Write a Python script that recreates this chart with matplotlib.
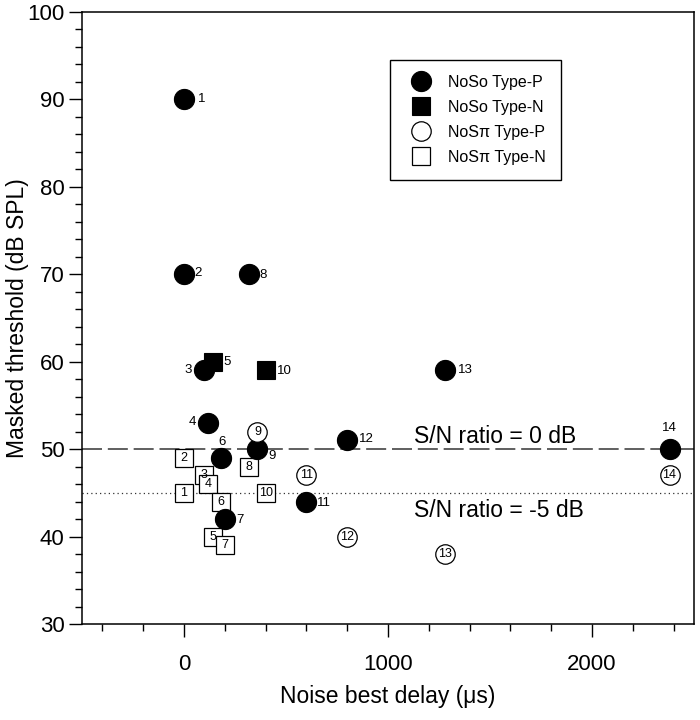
import matplotlib
matplotlib.use('Agg')
import matplotlib.pyplot as plt
from matplotlib.ticker import MultipleLocator

plt.rcParams['font.family'] = ['Liberation Sans', 'DejaVu Sans']

# NoSo Type-P (filled circles)
noso_p_id = [1, 2, 3, 4, 6, 7, 8, 9, 11, 12, 13, 14]
noso_p_delay = [0, 0, 100, 120, 180, 200, 320, 360, 600, 800, 1280, 2380]
noso_p_thr = [90, 70, 59, 53, 49, 42, 70, 50, 44, 51, 59, 50]

# NoSo Type-N (filled squares)
noso_n_id = [5, 10]
noso_n_delay = [140, 400]
noso_n_thr = [60, 59]

# NoSpi Type-P (open circles)
nospi_p_id = [9, 11, 12, 13, 14]
nospi_p_delay = [360, 600, 800, 1280, 2380]
nospi_p_thr = [52, 47, 40, 38, 47]

# NoSpi Type-N (open squares)
nospi_n_id = [1, 2, 3, 4, 5, 6, 7, 8, 10]
nospi_n_delay = [0, 0, 100, 120, 140, 180, 200, 320, 400]
nospi_n_thr = [45, 49, 47, 46, 40, 44, 39, 48, 45]

# label offsets in pixels (dx, dy) for the filled markers
p_offsets = {1: (18, 0), 2: (14, 1), 3: (-16, 0), 4: (-16, 1), 6: (1, 16),
             7: (15, -1), 8: (14, -1), 9: (15, -7), 11: (18, -1),
             12: (19, 1), 13: (20, 0), 14: (0, 21)}
n_offsets = {5: (15, 0), 10: (19, -1)}

fig = plt.figure(figsize=(7, 7.2), dpi=100)
ax = fig.add_axes([82 / 700, 1 - 624 / 720, 612 / 700, 612 / 720])

ax.axhline(50, color='#444444', lw=1.2, dashes=(12, 3.5), zorder=1)
ax.axhline(45, color='#333333', lw=0.9, dashes=(1, 2.5), zorder=1)

h4, = ax.plot(nospi_n_delay, nospi_n_thr, 's', ms=12.5, mfc='white', mec='black',
              mew=0.9, zorder=2, label='NoS\u03c0 Type-N')
h2, = ax.plot(noso_n_delay, noso_n_thr, 's', ms=12.5, mfc='black', mec='black',
              mew=0.8, zorder=3, label='NoSo Type-N')
h1, = ax.plot(noso_p_delay, noso_p_thr, 'o', ms=14.5, mfc='black', mec='black',
              mew=0.8, zorder=4, label='NoSo Type-P')
h3, = ax.plot(nospi_p_delay, nospi_p_thr, 'o', ms=14, mfc='white', mec='black',
              mew=0.9, zorder=4, label='NoS\u03c0 Type-P')

for n, x, y in zip(noso_p_id, noso_p_delay, noso_p_thr):
    dx, dy = p_offsets[n]
    ax.annotate(str(n), (x, y), xytext=(dx * 0.72, dy * 0.72),
                textcoords='offset points', ha='center', va='center',
                fontsize=9.5, zorder=5)
for n, x, y in zip(noso_n_id, noso_n_delay, noso_n_thr):
    dx, dy = n_offsets[n]
    ax.annotate(str(n), (x, y), xytext=(dx * 0.72, dy * 0.72),
                textcoords='offset points', ha='center', va='center',
                fontsize=9.5, zorder=5)
for n, x, y in zip(nospi_p_id, nospi_p_delay, nospi_p_thr):
    ax.text(x, y, str(n), ha='center', va='center', fontsize=9, zorder=5)
for n, x, y in zip(nospi_n_id, nospi_n_delay, nospi_n_thr):
    ax.text(x, y, str(n), ha='center', va='center', fontsize=9, zorder=2.5)

ax.text(1125, 51.4, 'S/N ratio = 0 dB', fontsize=16.5, va='center', ha='left')
ax.text(1125, 43.0, 'S/N ratio = -5 dB', fontsize=16.5, va='center', ha='left')

ax.set_xlim(-500, 2500)
ax.set_ylim(30, 100)
ax.xaxis.set_major_locator(MultipleLocator(1000))
ax.xaxis.set_minor_locator(MultipleLocator(200))
ax.yaxis.set_major_locator(MultipleLocator(10))
ax.yaxis.set_minor_locator(MultipleLocator(2))
ax.tick_params(which='both', direction='out', top=False, right=False, width=1.0)
ax.tick_params(which='major', length=9.5, labelsize=16)
ax.tick_params(axis='x', which='major', pad=12)
ax.tick_params(axis='y', which='major', pad=3)
ax.tick_params(which='minor', length=5)
for s in ax.spines.values():
    s.set_linewidth(1.1)

ax.set_xlabel('Noise best delay (\u03bcs)', fontsize=16.5)
ax.set_ylabel('Masked threshold (dB SPL)', fontsize=16.5)
ax.xaxis.set_label_coords(0.5, -0.1)
ax.yaxis.set_label_coords(-0.087, 0.5)

leg = ax.legend(handles=[h1, h2, h3, h4], loc='upper left',
                bbox_to_anchor=(390 / 700, 1 - 60 / 720),
                bbox_transform=fig.transFigure, fontsize=11.5,
                frameon=True, fancybox=False, edgecolor='black', framealpha=1,
                borderpad=0.94, handlelength=2.0, handletextpad=0.69,
                labelspacing=0.62, borderaxespad=0, numpoints=1)
leg.get_frame().set_linewidth(1.0)

fig.savefig('out.png', dpi=100)
